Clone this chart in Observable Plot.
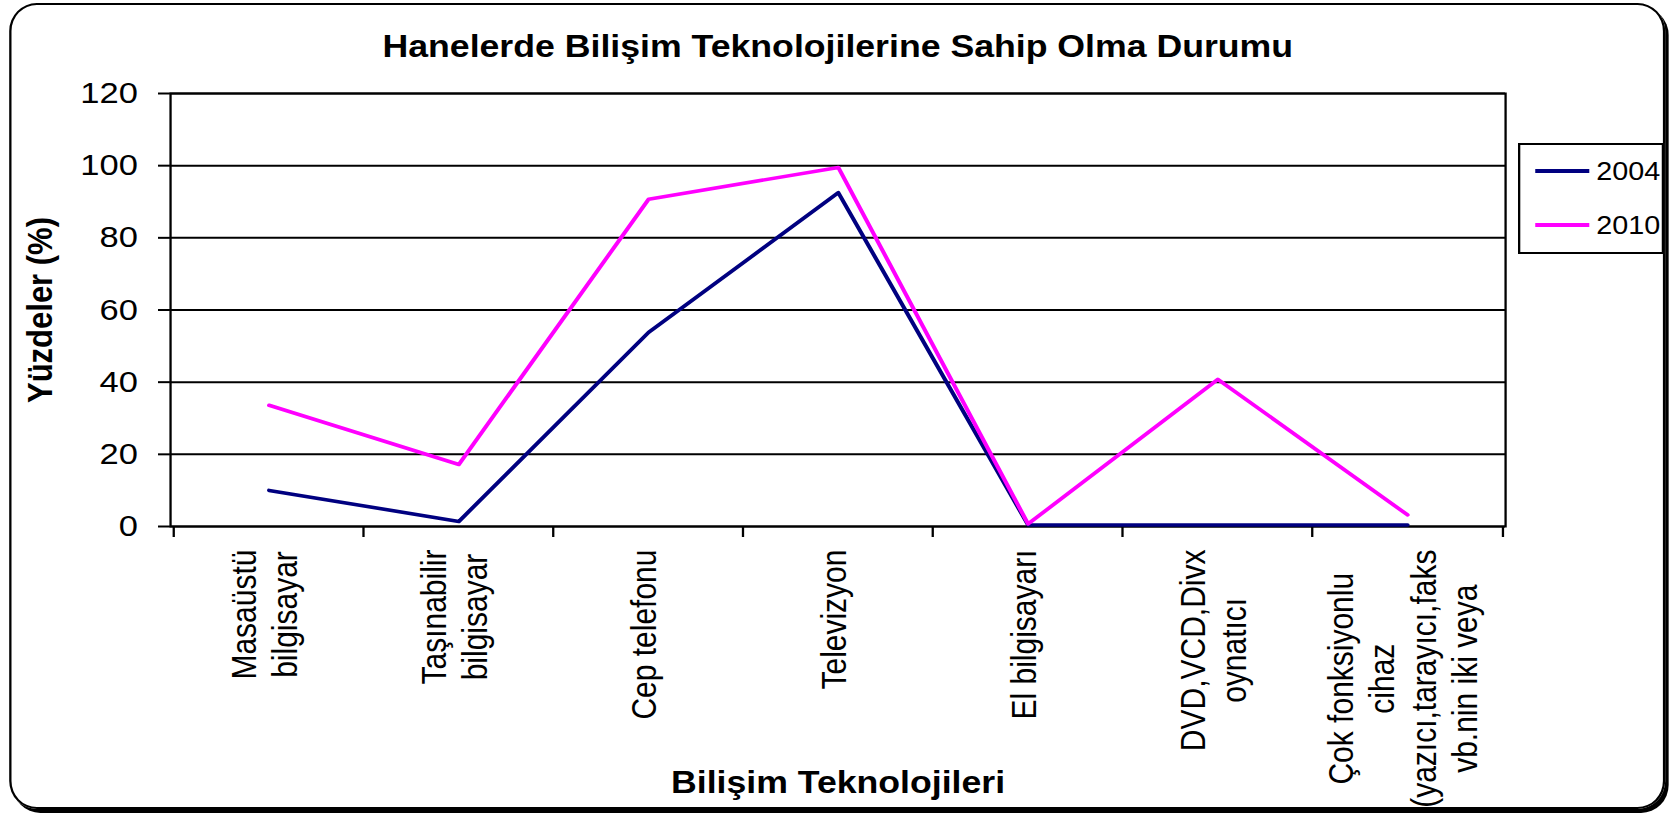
<!DOCTYPE html>
<html><head><meta charset="utf-8">
<script src="https://cdn.jsdelivr.net/npm/d3@7"></script>
<script src="https://cdn.jsdelivr.net/npm/@observablehq/plot@0.6"></script>
<style>
html,body{margin:0;padding:0;background:#fff;overflow:hidden;}
#wrap{position:relative;width:1459px;height:818px;transform:scaleX(1.15);transform-origin:0 0;font-family:"Liberation Sans",Arial,sans-serif;color:#000;}
#border{position:absolute;left:8px;top:3px;width:1440px;height:806px;border:2px solid #000;border-radius:24px/28px;box-shadow:3px 4px 0 #000;box-sizing:border-box;}
#title{position:absolute;left:148px;width:1161px;top:31px;text-align:center;font-weight:bold;font-size:31px;line-height:31px;white-space:nowrap;}
#legend{position:absolute;left:1320px;top:143px;width:127px;height:111px;border:2px solid #000;box-sizing:border-box;background:#fff;}
.item{position:absolute;left:0;height:25px;width:125px;}
.sw{position:absolute;left:13px;top:10px;width:47px;height:4px;}
.lab{position:absolute;left:66px;top:0;font-size:25px;line-height:25px;}
#chart{position:absolute;left:0;top:0;}
</style>
</head><body>
<div id="wrap">
  <div id="border"></div>
  <div id="chart"></div>
  <div id="title"></div>
  <div id="legend"></div>
</div>
<script>
const titleText = "Hanelerde Bilişim Teknolojilerine Sahip Olma Durumu";
const yLabel = "Yüzdeler (%)";
const xLabel = "Bilişim Teknolojileri";
const categories = [
  "Masaüstü\nbilgisayar",
  "Taşınabilir\nbilgisayar",
  "Cep telefonu",
  "Televizyon",
  "El bilgisayarı",
  "DVD,VCD,Divx\noynatıcı",
  "Çok fonksiyonlu\ncihaz\n(yazıcı,tarayıcı,faks\nvb.nin iki veya"
];
const years = ["2004", "2010"];
const values2004 = [10.0, 1.4, 53.8, 92.5, 0.4, 0.4, 0.4];
const values2010 = [33.6, 17.2, 90.7, 99.5, 0.7, 40.8, 3.2];
const seriesColors = ["#000080", "#FF00FF"];
const yTicks = [0, 20, 40, 60, 80, 100, 120];

const series = [values2004, values2010];
const data = years.flatMap((yr, j) => categories.map((c, i) => ({cat: c, year: yr, v: series[j][i]})));

const W = 1459, H = 818, mL = 147.8, mR = 150.3, mT = 93, mB = 292;
const bw = (W - mL - mR) / categories.length;
const FONT = '"Liberation Sans", Arial, sans-serif';
const LABEL_SIZE = 30;
const ctx = document.createElement("canvas").getContext("2d");
ctx.font = LABEL_SIZE + "px " + FONT;
const maxLen = c => d3.max(c.split("\n"), s => ctx.measureText(s).width);

const chart = Plot.plot({
  width: W, height: H,
  marginLeft: mL, marginRight: mR, marginTop: mT, marginBottom: mB,
  style: {fontFamily: FONT, fontSize: "30px", color: "#000", background: "transparent"},
  x: {type: "band", domain: categories, padding: 0},
  y: {domain: [0, 120]},
  color: {domain: years, range: seriesColors},
  marks: [
    Plot.ruleY(yTicks, {stroke: "#000", strokeWidth: 2}),
    Plot.frame({stroke: "#000", strokeWidth: 2}),
    Plot.axisY({ticks: yTicks, tickSize: 10.4, tickPadding: 18, fontSize: 30, label: null, strokeWidth: 2}),
    Plot.axisX({ticks: categories, tickSize: 11, tickFormat: () => "", dx: -bw / 2, label: null, strokeWidth: 2}),
    Plot.axisX({ticks: [categories[categories.length - 1]], tickSize: 11, tickFormat: () => "", dx: bw / 2, label: null, strokeWidth: 2}),
    Plot.line(data, {x: "cat", y: "v", stroke: "year", strokeWidth: 3.6}),
    ...categories.map(c => Plot.text([c], {
      x: d => d, text: d => d, frameAnchor: "bottom", rotate: -90,
      textAnchor: "middle", lineAnchor: "middle", lineHeight: 1.2, fontSize: LABEL_SIZE,
      dx: -5, dy: 23 + maxLen(c) / 2
    })),
    Plot.text([yLabel], {text: d => d, frameAnchor: "left", textAnchor: "middle", lineAnchor: "middle", rotate: -90, dx: -113, fontWeight: "bold", fontSize: 31}),
    Plot.text([xLabel], {text: d => d, frameAnchor: "bottom", textAnchor: "middle", lineAnchor: "middle", dy: 257, fontWeight: "bold", fontSize: 31})
  ]
});
document.getElementById("chart").appendChild(chart);
document.getElementById("title").textContent = titleText;

const legend = document.getElementById("legend");
years.forEach((yr, i) => {
  const it = document.createElement("div");
  it.className = "item";
  it.style.top = (26 - 12 + 54 * i) + "px";
  const sw = document.createElement("div");
  sw.className = "sw";
  sw.style.background = seriesColors[i];
  const lb = document.createElement("div");
  lb.className = "lab";
  lb.textContent = yr;
  it.appendChild(sw); it.appendChild(lb);
  legend.appendChild(it);
});
</script>
</body></html>
